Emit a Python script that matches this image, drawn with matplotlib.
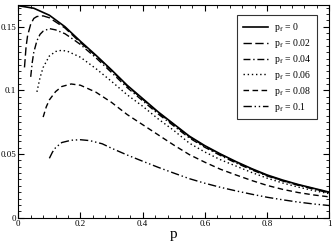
import matplotlib
matplotlib.use("Agg")
import matplotlib.pyplot as plt
from matplotlib.ticker import MultipleLocator, FuncFormatter

plt.rcParams['font.family'] = ['Liberation Serif', 'DejaVu Serif']
plt.rcParams['mathtext.fontset'] = 'stix'

# p_f = 0
p0 = [0.0, 0.05, 0.1, 0.15, 0.2, 0.25, 0.3, 0.35, 0.4, 0.45, 0.5, 0.55, 0.6, 0.65, 0.7,
      0.75, 0.8, 0.85, 0.9, 0.95, 1.0]
v0 = [0.1665, 0.1645, 0.1590, 0.1500, 0.1385, 0.1275, 0.1160, 0.1040, 0.0935, 0.0830,
      0.0735, 0.0640, 0.0565, 0.0500, 0.0440, 0.0385, 0.0335, 0.0295, 0.0260, 0.0230, 0.0200]

# p_f = 0.02
p1 = [0.02, 0.025, 0.03, 0.04, 0.05, 0.06, 0.08, 0.1, 0.15, 0.2, 0.25, 0.3, 0.35, 0.4,
      0.45, 0.5, 0.55, 0.6, 0.65, 0.7, 0.75, 0.8, 0.85, 0.9, 0.95, 1.0]
v1 = [0.118, 0.134, 0.143, 0.152, 0.1565, 0.158, 0.1585, 0.157, 0.1490, 0.1375, 0.1270,
      0.1155, 0.1035, 0.0930, 0.0825, 0.0730, 0.0635, 0.0560, 0.0495, 0.0435, 0.0381,
      0.0331, 0.0291, 0.0257, 0.0227, 0.0197]

# p_f = 0.04
p2 = [0.04, 0.045, 0.05, 0.06, 0.07, 0.08, 0.1, 0.12, 0.15, 0.18, 0.2, 0.25, 0.3, 0.35,
      0.4, 0.45, 0.5, 0.55, 0.6, 0.65, 0.7, 0.75, 0.8, 0.85, 0.9, 0.95, 1.0]
v2 = [0.1106, 0.122, 0.130, 0.139, 0.144, 0.1465, 0.1485, 0.1475, 0.1445, 0.1395, 0.136,
      0.1255, 0.1140, 0.1022, 0.0918, 0.0814, 0.0720, 0.0626, 0.0552, 0.0488, 0.0429,
      0.0376, 0.0327, 0.0288, 0.0254, 0.0224, 0.0194]

# p_f = 0.06
p3 = [0.06, 0.07, 0.08, 0.1, 0.12, 0.14, 0.16, 0.2, 0.25, 0.3, 0.35, 0.4, 0.45, 0.5,
      0.55, 0.6, 0.65, 0.7, 0.75, 0.8, 0.85, 0.9, 0.95, 1.0]
v3 = [0.0988, 0.110, 0.118, 0.127, 0.1305, 0.1315, 0.1305, 0.126, 0.117, 0.107, 0.0965,
      0.0875, 0.0775, 0.0685, 0.0585, 0.0515, 0.0455, 0.0405, 0.0355, 0.031, 0.0272,
      0.0240, 0.0212, 0.0188]

# p_f = 0.08
p4 = [0.08, 0.09, 0.1, 0.12, 0.14, 0.17, 0.2, 0.25, 0.3, 0.35, 0.4, 0.45, 0.5, 0.55,
      0.6, 0.65, 0.7, 0.75, 0.8, 0.85, 0.9, 0.95, 1.0]
v4 = [0.079, 0.087, 0.0925, 0.0990, 0.1030, 0.1050, 0.1040, 0.0985, 0.0905, 0.0810,
      0.0730, 0.0650, 0.0570, 0.0495, 0.0435, 0.0380, 0.0335, 0.0292, 0.0253, 0.0222,
      0.0197, 0.0178, 0.0163]

# p_f = 0.1
p5 = [0.1, 0.11, 0.12, 0.14, 0.17, 0.2, 0.23, 0.27, 0.3, 0.35, 0.4, 0.45, 0.5, 0.55,
      0.6, 0.65, 0.7, 0.75, 0.8, 0.85, 0.9, 0.95, 1.0]
v5 = [0.0466, 0.0515, 0.0550, 0.0590, 0.0608, 0.0612, 0.0605, 0.0580, 0.0545, 0.0492,
      0.0443, 0.0395, 0.0350, 0.0306, 0.0270, 0.0238, 0.0210, 0.0184, 0.0160, 0.0140,
      0.0122, 0.0107, 0.0095]

labels = ['0', '0.02', '0.04', '0.06', '0.08', '0.1']
dashes = [None, (6, 2.5), (5, 2, 1, 2), (1, 2), (4, 2.5), (6, 2, 1, 2, 1, 2)]

fig = plt.figure(figsize=(3.32, 2.41), dpi=100)
ax = fig.add_axes([0.055, 0.097, 0.937, 0.882])

curves = [(p0, v0), (p1, v1), (p2, v2), (p3, v3), (p4, v4), (p5, v5)]
for (px, py), lab, d in zip(curves, labels, dashes):
    line, = ax.plot(px, py, color='black', lw=1.2 if d is None else 1.0,
                    label=r'p$_\mathrm{f}$ = ' + lab)
    if d is not None:
        line.set_dashes(d)

ax.set_xlim(0, 1)
ax.set_ylim(0, 0.167)
ax.xaxis.set_major_locator(MultipleLocator(0.2))
ax.xaxis.set_minor_locator(MultipleLocator(0.04))
ax.yaxis.set_major_locator(MultipleLocator(0.05))
ax.yaxis.set_minor_locator(MultipleLocator(0.005))
ax.xaxis.set_major_formatter(FuncFormatter(lambda v, _: f'{v:g}'))
ax.yaxis.set_major_formatter(FuncFormatter(lambda v, _: f'{v:g}'))
ax.tick_params(which='both', direction='in', top=True, right=True, labelsize=6.5, pad=1.5)
ax.tick_params(which='major', length=4)
ax.tick_params(which='minor', length=2)
ax.set_xlabel('p', fontsize=11, labelpad=0)

ax.legend(loc='upper right', bbox_to_anchor=(0.975, 0.975), fontsize=7, frameon=True,
          fancybox=False, edgecolor='black', handlelength=2.6, borderpad=0.6,
          labelspacing=0.3, handletextpad=0.6)
ax.get_legend().get_frame().set_linewidth(0.8)

fig.savefig('out.png', dpi=100)
